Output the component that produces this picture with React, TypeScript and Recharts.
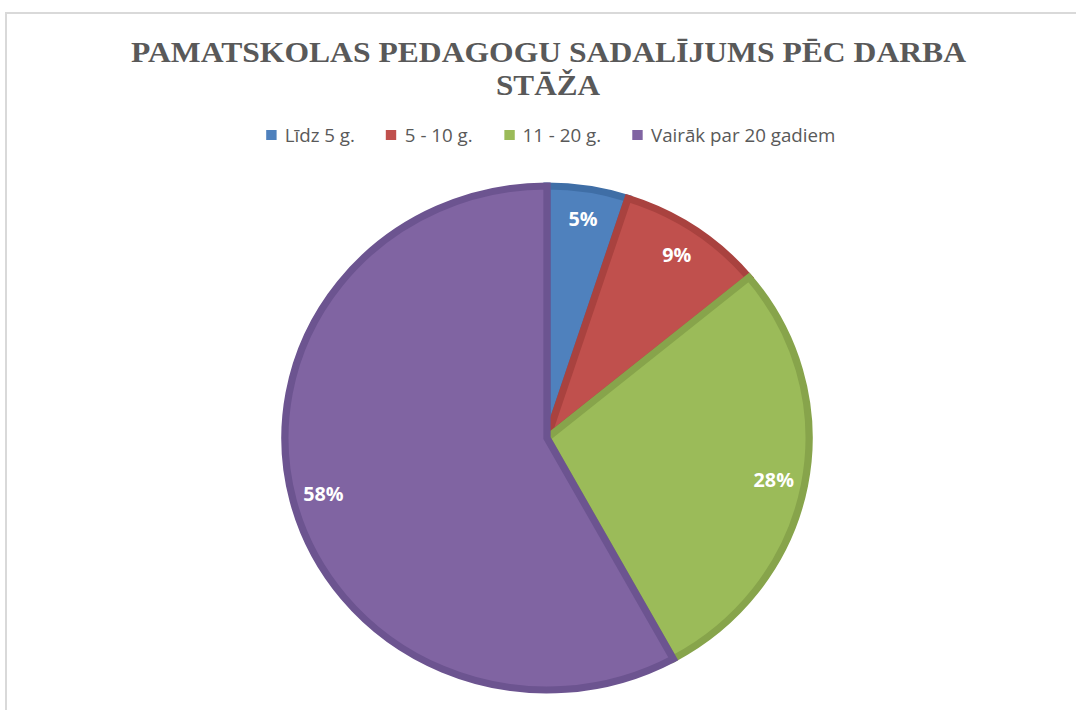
import React from 'react';
import { PieChart, Pie, Cell, Legend } from 'recharts';

const categories = ['Līdz 5 g.', '5 - 10 g.', '11 - 20 g.', 'Vairāk par 20 gadiem'];
const shares = [5, 9, 28, 58];
const fills = ['#4f81bd', '#c0504d', '#9bbb59', '#8064a2'];
const strokes = ['#3f6ea6', '#a9423f', '#87a44b', '#6c5490'];

const data = categories.map((name, i) => ({ name, value: shares[i] }));

const RAD = Math.PI / 180;

const renderLabel = (props: any) => {
  const { cx, cy, midAngle, percent } = props;
  const r = 222;
  const x = cx + r * Math.cos(-midAngle * RAD);
  const y = cy + r * Math.sin(-midAngle * RAD);
  return (
    <text x={x} y={y} fill="#fff" textAnchor="middle" dominantBaseline="central"
      style={{ fontFamily: 'Open Sans', fontWeight: 700, fontSize: 19 }}>
      {Math.round(percent * 100)}%
    </text>
  );
};

const LegendBox = () => (
  <div style={{ display: 'flex', justifyContent: 'center', gap: 30, paddingLeft: 25, fontFamily: 'Open Sans', fontSize: 18, color: '#595959' }}>
    {categories.map((c, i) => (
      <div key={c} style={{ display: 'flex', alignItems: 'center' }}>
        <span style={{ width: 10, height: 10, background: fills[i], marginRight: 8, display: 'inline-block' }} />
        <span>{c}</span>
      </div>
    ))}
  </div>
);

const App: React.FC = () => {
  return (
    <div style={{ position: 'absolute', left: 0, top: 0, width: 1076, height: 710, background: '#fff', overflow: 'hidden' }}>
      <div style={{ position: 'absolute', left: 5, top: 12, width: 1100, height: 720, border: '2px solid #d9d9d9' }} />
      <svg width={1076} height={110} style={{ position: 'absolute', left: 0, top: 0 }}>
        <text x={131} y={62} textLength={835} lengthAdjust="spacingAndGlyphs" fill="#595959"
          style={{ fontFamily: 'Liberation Serif', fontWeight: 700, fontSize: 29 }}>
          PAMATSKOLAS PEDAGOGU SADALĪJUMS PĒC DARBA
        </text>
        <text x={496} y={95} textLength={104} lengthAdjust="spacingAndGlyphs" fill="#595959"
          style={{ fontFamily: 'Liberation Serif', fontWeight: 700, fontSize: 29 }}>
          STĀŽA
        </text>
      </svg>
      <div style={{ position: 'absolute', left: 0, top: 0, transform: 'scaleX(1.04)', transformOrigin: '547px 0px' }}>
        <PieChart width={1076} height={710} margin={{ top: 0, right: 0, bottom: 0, left: 0 }}>
          <Pie
            data={data}
            dataKey="value"
            nameKey="name"
            cx={547}
            cy={414}
            outerRadius={252}
            startAngle={90}
            endAngle={-270}
            label={renderLabel}
            labelLine={false}
            isAnimationActive={false}
          >
            {data.map((_, i) => (
              <Cell key={i} fill={fills[i]} stroke={strokes[i]} strokeWidth={7} />
            ))}
          </Pie>
          <Legend content={<LegendBox />} verticalAlign="top" wrapperStyle={{ top: 123, left: 0, width: 1076 }} />
        </PieChart>
      </div>
    </div>
  );
};

export default App;
